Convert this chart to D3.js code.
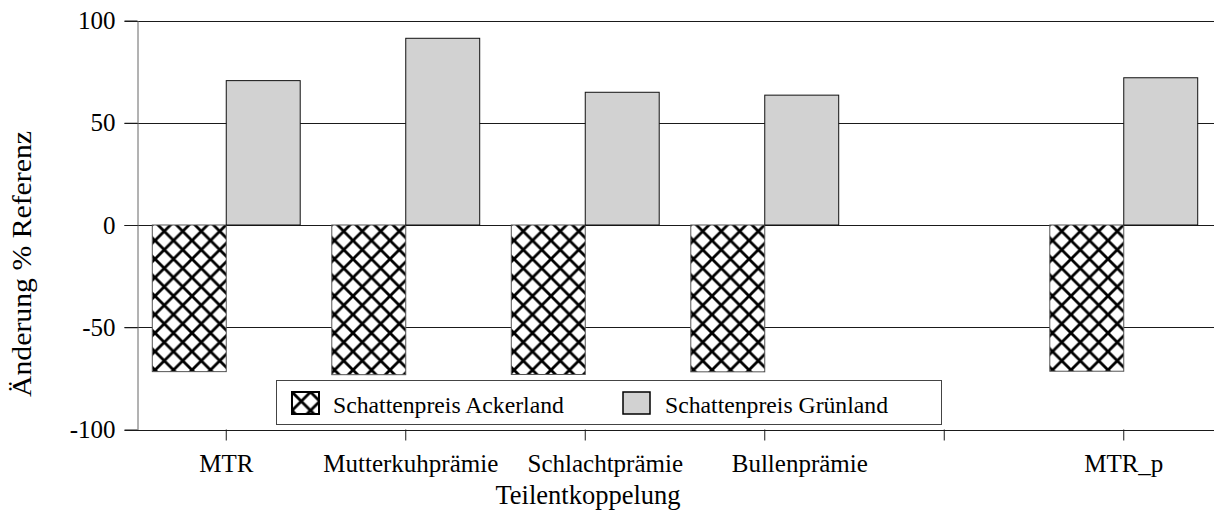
<!DOCTYPE html>
<html>
<head>
<meta charset="utf-8">
<script src="https://cdn.jsdelivr.net/npm/d3@7"></script>
<style>
  body { margin: 0; background: #fff; }
  svg { display: block; font-family: "Liberation Serif", "Times New Roman", serif; }
</style>
</head>
<body>
<div class="canvas"></div>
<script>
// data
const categories = ["MTR", "Mutterkuhprämie", "Schlachtprämie", "Bullenprämie", "", "MTR_p"];
const ackerland = [-71.7, -73.2, -73.1, -71.8, null, -71.5];
const gruenland = [70.6, 91.3, 64.9, 63.5, null, 72.0];
const seriesNames = ["Schattenpreis Ackerland", "Schattenpreis Grünland"];
const yTicks = [-100, -50, 0, 50, 100];

// label nudges (the original labels are not centred on their ticks)
const labelShift = [0, 5, 20, 35, 0, 0];

const W = 1214, H = 515;
const plotLeft = 137.5, plotTop = 20.5, plotBottom = 429.5, plotRight = W;

const svg = d3.select(".canvas").append("svg")
    .attr("width", W)
    .attr("height", H);

// crosshatch pattern
const p = 18.5;
const pat = svg.append("defs").append("pattern")
    .attr("id", "hatch")
    .attr("patternUnits", "userSpaceOnUse")
    .attr("width", p).attr("height", p);
pat.append("rect").attr("width", p).attr("height", p).attr("fill", "#fff");
pat.append("path")
    .attr("d", `M0,0L${p},${p}M${p},0L0,${p}`)
    .attr("stroke", "#000")
    .attr("stroke-width", 2.8);

const y = d3.scaleLinear().domain([-100, 100]).range([plotBottom, plotTop]);
const x0 = d3.scaleBand().domain(categories).range([136.5, 1213.5]);
const bw = x0.bandwidth();
const x1 = d3.scaleBand().domain(seriesNames).range([bw * 0.088, bw * 0.912]);

// gridlines
svg.append("g").selectAll("line")
    .data(yTicks)
    .join("line")
    .attr("x1", plotLeft - 13).attr("x2", plotRight)
    .attr("y1", d => Math.round(y(d)) + 0.5).attr("y2", d => Math.round(y(d)) + 0.5)
    .attr("stroke", "#1a1a1a")
    .attr("stroke-width", 1);

// bars
const rows = categories.map((c, i) => ({ cat: c, vals: [ackerland[i], gruenland[i]] }));
const fills = ["url(#hatch)", "#d2d2d2"];

const groups = svg.append("g").selectAll("g")
    .data(rows)
    .join("g")
    .attr("transform", d => `translate(${x0(d.cat)},0)`);

groups.selectAll("rect")
    .data(d => d.vals.map((v, j) => ({ s: seriesNames[j], v: v, j: j })).filter(e => e.v != null))
    .join("rect")
    .attr("x", e => x1(e.s))
    .attr("width", x1.bandwidth())
    .attr("y", e => y(Math.max(0, e.v)))
    .attr("height", e => Math.abs(y(e.v) - y(0)))
    .attr("fill", e => fills[e.j])
    .attr("stroke", e => e.j === 0 ? "#555" : "#111")
    .attr("stroke-width", 1);

// y axis
const yAxis = svg.append("g")
    .attr("transform", `translate(${plotLeft},0)`)
    .call(d3.axisLeft(y).tickValues(yTicks).tickSize(13).tickSizeOuter(0).tickPadding(9)
        .tickFormat(d => String(d)));
yAxis.select(".domain").attr("stroke", "#666");
yAxis.selectAll(".tick line").attr("stroke", "#1a1a1a");
yAxis.selectAll("text")
    .attr("font-family", "Liberation Serif")
    .attr("font-size", 25)
    .attr("fill", "#000");

// x axis
const xAxis = svg.append("g")
    .attr("transform", `translate(0,${plotBottom})`)
    .call(d3.axisBottom(x0).tickSize(11).tickSizeOuter(0));
xAxis.select(".domain").remove();
xAxis.selectAll(".tick line").attr("stroke", "#1a1a1a");
xAxis.selectAll("text")
    .attr("font-family", "Liberation Serif")
    .attr("font-size", 25)
    .attr("fill", "#000")
    .attr("y", 42.5)
    .attr("dy", 0)
    .attr("dx", (d, i) => labelShift[i]);

// axis titles
svg.append("text")
    .attr("x", 588).attr("y", 504)
    .attr("text-anchor", "middle")
    .attr("font-size", 26.5)
    .text("Teilentkoppelung");

svg.append("text")
    .attr("transform", "translate(31,264) rotate(-90)")
    .attr("text-anchor", "middle")
    .attr("font-size", 26.5)
    .attr("textLength", 266)
    .attr("lengthAdjust", "spacingAndGlyphs")
    .text("Änderung % Referenz");

// legend
const lg = svg.append("g");
lg.append("rect")
    .attr("x", 276.5).attr("y", 380.5)
    .attr("width", 665).attr("height", 44)
    .attr("fill", "#fff")
    .attr("stroke", "#444");

const items = lg.selectAll("g")
    .data(seriesNames)
    .join("g")
    .attr("transform", (d, i) => `translate(${i === 0 ? 292 : 623},392)`);
items.append("rect")
    .attr("width", 27).attr("height", 22)
    .attr("fill", (d, i) => fills[i])
    .attr("stroke", "#000")
    .attr("stroke-width", (d, i) => i === 0 ? 2 : 1.5);
items.append("text")
    .attr("x", (d, i) => i === 0 ? 41 : 42)
    .attr("y", 20.5)
    .attr("font-size", 23.7)
    .text(d => d);
</script>
</body>
</html>
